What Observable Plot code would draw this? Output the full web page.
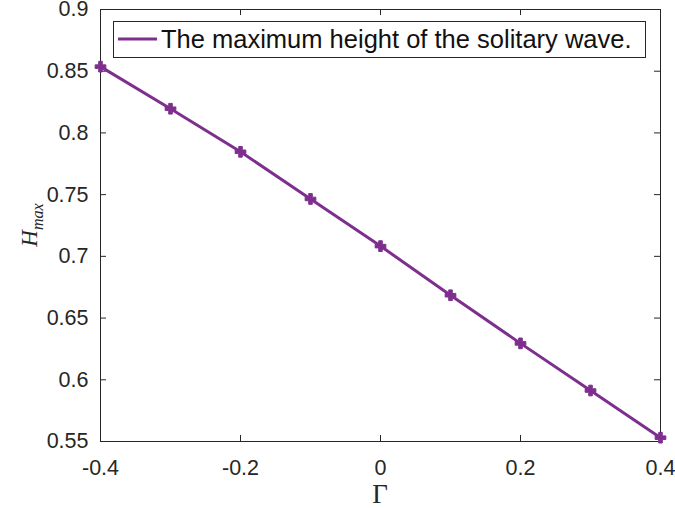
<!DOCTYPE html>
<html><head><meta charset="utf-8">
<script src="https://cdn.jsdelivr.net/npm/d3@7"></script>
<script src="https://cdn.jsdelivr.net/npm/@observablehq/plot@0.6"></script>
<style>body{margin:0;background:#fff} svg{display:block}</style>
</head><body><div id="chart"></div>
<script>
const gamma = [-0.4, -0.3, -0.2, -0.1, 0, 0.1, 0.2, 0.3, 0.4];
const hmax = [0.8537, 0.8196, 0.7847, 0.7465, 0.7083, 0.6685, 0.6295, 0.5913, 0.5531];
const xTicks = [-0.4, -0.2, 0, 0.2, 0.4];
const xTickLabels = ["-0.4", "-0.2", "0", "0.2", "0.4"];
const yTicks = [0.55, 0.6, 0.65, 0.7, 0.75, 0.8, 0.85, 0.9];
const yTickLabels = ["0.55", "0.6", "0.65", "0.7", "0.75", "0.8", "0.85", "0.9"];
const legendLabel = "The maximum height of the solitary wave.";
const xLabel = "Γ";
const yLabelMain = "H", yLabelSub = "max";

const data = gamma.map((g, i) => ({g, h: hmax[i]}));
const W = 675, H = 508, mL = 100, mR = 15, mT = 9, mB = 67;
const pW = W - mL - mR, pH = H - mT - mB;
const ink = "#262626", purple = "#7E2F8E", tick = 6;

const svg = Plot.plot({
  width: W, height: H,
  marginLeft: mL, marginRight: mR, marginTop: mT, marginBottom: mB,
  style: {fontFamily: "'Liberation Sans', Arial, sans-serif", fontSize: "21.5px", color: ink, background: "#fff", overflow: "visible"},
  x: {domain: [-0.4, 0.4]},
  y: {domain: [0.55, 0.9]},
  marks: [
    Plot.ruleX(xTicks, {x: d => d, insetTop: pH - tick, stroke: ink}),
    Plot.ruleX(xTicks, {x: d => d, insetBottom: pH - tick, stroke: ink}),
    Plot.ruleY(yTicks, {y: d => d, insetRight: pW - tick, stroke: ink}),
    Plot.ruleY(yTicks, {y: d => d, insetLeft: pW - tick, stroke: ink}),
    Plot.frame({stroke: ink}),
    Plot.axisX(xTicks, {tickSize: 0, tickPadding: 18, label: null, fill: ink,
      tickFormat: d => xTickLabels[xTicks.indexOf(d)]}),
    Plot.axisY(yTicks, {tickSize: 0, tickPadding: 12, label: null, fill: ink,
      tickFormat: d => yTickLabels[yTicks.indexOf(d)]}),
    Plot.line(data, {x: "g", y: "h", stroke: purple, strokeWidth: 3}),
    Plot.dot(data, {x: "g", y: "h", symbol: "cross", r: 4.5, fill: purple, stroke: purple, strokeWidth: 1})
  ]
});

const s = d3.select(svg);
// x label
s.append("text").attr("x", mL + pW / 2).attr("y", 503)
  .attr("text-anchor", "middle").attr("font-family", "'Liberation Serif', serif")
  .attr("font-size", 27).attr("fill", ink).text(xLabel);
// y label
const yl = s.append("text").attr("transform", `translate(37,${mT + pH / 2}) rotate(-90)`)
  .attr("text-anchor", "middle").attr("font-family", "'Liberation Serif', serif")
  .attr("font-style", "italic").attr("fill", ink);
yl.append("tspan").attr("font-size", 23).text(yLabelMain);
yl.append("tspan").attr("font-size", 16).attr("dy", 6).text(yLabelSub);
// legend
const lg = s.append("g");
lg.append("rect").attr("x", 113.5).attr("y", 21.5).attr("width", 532).attr("height", 36)
  .attr("fill", "#fff").attr("stroke", ink);
lg.append("line").attr("x1", 118).attr("x2", 157).attr("y1", 39).attr("y2", 39)
  .attr("stroke", purple).attr("stroke-width", 3);
lg.append("text").attr("x", 161).attr("y", 48).attr("text-anchor", "start")
  .attr("font-family", "'Liberation Sans', Arial, sans-serif")
  .attr("font-size", 25.5).attr("fill", "#111").text(legendLabel);

document.getElementById("chart").appendChild(svg);
</script>
</body></html>
